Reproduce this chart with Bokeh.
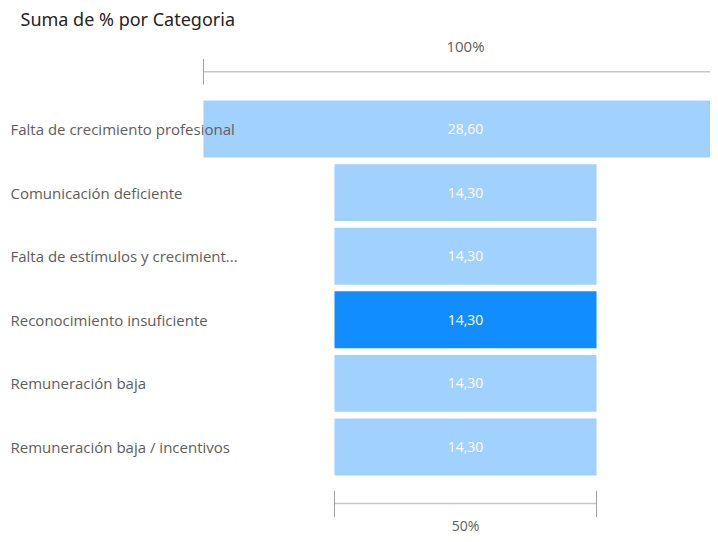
from bokeh.plotting import figure
from bokeh.models import Range1d, Label, ColumnDataSource
from bokeh.core.properties import value
from bokeh.embed import file_html
from bokeh.resources import INLINE

categories = [
    "Falta de crecimiento profesional",
    "Comunicación deficiente",
    "Falta de estímulos y crecimient...",
    "Reconocimiento insuficiente",
    "Remuneración baja",
    "Remuneración baja / incentivos",
]
values = [28.60, 14.30, 14.30, 14.30, 14.30, 14.30]
highlighted = "Reconocimiento insuficiente"
title_text = "Suma de % por Categoria"

BASE = "#118DFF"
DIM = "#A0D1FF"

idx = list(range(len(categories)))
colors = [BASE if c == highlighted else DIM for c in categories]
labels = [f"{v:.2f}".replace(".", ",") for v in values]
lefts = [-v / 2 for v in values]
rights = [v / 2 for v in values]

src = ColumnDataSource(dict(y=idx, left=lefts, right=rights, color=colors,
                            lab=labels, cat=categories,
                            xs=[0] * len(idx)))

x_range = Range1d(-24.94, 13.37)
p = figure(width=710, height=534, output_backend="svg", toolbar_location=None,
           x_range=x_range, y_range=Range1d(6.376, -1.895),
           min_border=0, min_border_left=8, min_border_right=0,
           min_border_top=8, min_border_bottom=0)
p.axis.visible = False
p.grid.visible = False
p.outline_line_color = None

p.hbar(y="y", left="left", right="right", height=0.895, color="color",
       line_color=None, source=src)

p.text(x="xs", y="y", text="lab", source=src, text_align="center",
       text_baseline="middle", text_color="white", text_font_size="14px",
       text_font=value("Open Sans"))

p.text(x=x_range.start, y="y", text="cat", source=src, text_align="left",
       text_baseline="middle", text_color="#605E5C", text_font_size="15px",
       text_font=value("Open Sans"), x_offset=2)

# top axis (first value = 100%)
top_w = values[0] / 2
p.segment(x0=[-top_w], y0=[-0.9], x1=[top_w], y1=[-0.9], line_color="#C8C6C4", line_width=1.5)
p.segment(x0=[-top_w, top_w], y0=[-1.1, -1.1], x1=[-top_w, top_w], y1=[-0.7, -0.7],
          line_color="#A19F9D", line_width=1)
p.text(x=[0], y=[-1.31], text=["100%"], text_align="center", text_baseline="middle",
       text_color="#605E5C", text_font_size="15px", text_font=value("Open Sans"))

# bottom axis (last value relative to first)
bot_w = values[-1] / 2
pct = round(values[-1] / values[0] * 100)
p.segment(x0=[-bot_w], y0=[5.89], x1=[bot_w], y1=[5.89], line_color="#C8C6C4", line_width=1.5)
p.segment(x0=[-bot_w, bot_w], y0=[5.69, 5.69], x1=[-bot_w, bot_w], y1=[6.10, 6.10],
          line_color="#A19F9D", line_width=1)
p.text(x=[0], y=[6.24], text=[f"{pct}%"], text_align="center", text_baseline="middle",
       text_color="#605E5C", text_font_size="14px", text_font=value("Open Sans"))

p.add_layout(Label(x=12, y=516, x_units="screen", y_units="screen", text=title_text,
                   text_font="Noto Sans", text_font_size="18px", text_color="#252423",
                   text_baseline="middle"))

open("out.html", "w").write(file_html(p, INLINE))
